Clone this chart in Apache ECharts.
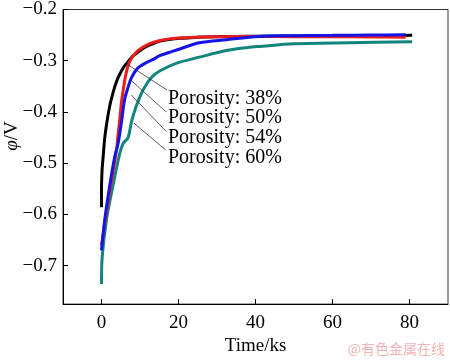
<!DOCTYPE html>
<html>
<head>
<meta charset="utf-8">
<script src="https://cdn.jsdelivr.net/npm/echarts@6/dist/echarts.min.js"></script>
<style>html,body{margin:0;padding:0;background:#fff}#c{width:450px;height:361px}</style>
</head>
<body>
<div id="c"></div>
<script>
// Porosity 38% (black)
const t38 = [0, 0, 0.16, 0.4, 0.85, 1.4, 2.15, 2.8, 3.44, 4.2, 5.18, 6.0, 6.9, 8.0, 9.5, 11.0, 12.9, 15, 18, 21, 25, 30, 35, 40, 50, 60, 70, 80.7];
const phi38 = [-0.586, -0.55, -0.512, -0.49, -0.45, -0.42, -0.388, -0.368, -0.351, -0.335, -0.320, -0.310, -0.302, -0.292, -0.283, -0.275, -0.268, -0.262, -0.258, -0.256, -0.254, -0.253, -0.2525, -0.2522, -0.2515, -0.251, -0.2508, -0.2505];
// Porosity 50% (red)
const t50 = [0, 0.5, 1.0, 2.0, 3.0, 3.9, 4.3, 4.8, 5.2, 6.0, 6.6, 7.3, 8.3, 9.5, 12.1, 15, 18, 22, 26, 30, 40, 50, 60, 70, 79];
const phi50 = [-0.66, -0.635, -0.61, -0.56, -0.515, -0.475, -0.445, -0.41, -0.38, -0.34, -0.318, -0.302, -0.29, -0.28, -0.268, -0.261, -0.257, -0.255, -0.2535, -0.253, -0.2528, -0.253, -0.2533, -0.2535, -0.254];
// Porosity 54% (blue)
const t54 = [0, 0.85, 2.15, 3.44, 4.3, 5.2, 6.0, 6.9, 7.8, 9.5, 12.1, 13.8, 15.1, 17.5, 20.3, 25.4, 32.4, 41, 50, 60, 70, 79];
const phi54 = [-0.67, -0.61, -0.543, -0.487, -0.462, -0.419, -0.376, -0.352, -0.333, -0.314, -0.302, -0.296, -0.290, -0.284, -0.277, -0.265, -0.259, -0.2525, -0.251, -0.2505, -0.25, -0.2495];
// Porosity 60% (teal)
const t60 = [0, 0.16, 1.3, 3.0, 4.74, 5.6, 6.9, 7.8, 9.06, 10.8, 12.9, 15.1, 19.4, 25.4, 32.4, 38, 41, 50, 64, 80.7];
const phi60 = [-0.736, -0.685, -0.61, -0.543, -0.481, -0.462, -0.45, -0.419, -0.388, -0.357, -0.333, -0.320, -0.305, -0.293, -0.280, -0.274, -0.272, -0.267, -0.265, -0.263];

const seriesNames = ['Porosity: 38%', 'Porosity: 50%', 'Porosity: 54%', 'Porosity: 60%'];
const xTicks = [0, 20, 40, 60, 80];
const yTicks = [-0.7, -0.6, -0.5, -0.4, -0.3, -0.2];
// leader lines: [from (t, phi)], [to (t, phi)]
const leaderFrom = [[6.9, -0.308], [7.33, -0.336], [7.77, -0.367], [8.44, -0.422]];
const leaderTo = [[17.0, -0.357], [16.8, -0.400], [16.8, -0.438], [16.65, -0.474]];

const zip = (a, b) => a.map((v, i) => [v, b[i]]);
const serif = '"Liberation Serif", "Times New Roman", serif';
const colors = ['#000000', '#ee1c1c', '#1414e6', '#14857d'];
const dataSets = [zip(t38, phi38), zip(t50, phi50), zip(t54, phi54), zip(t60, phi60)];
const zOrder = [3, 4, 5, 2];

const chart = echarts.init(document.getElementById('c'));
const series = dataSets.map((d, i) => ({
  name: seriesNames[i], type: 'line', data: d, showSymbol: false, smooth: 0.3,
  lineStyle: {color: colors[i], width: 3}, z: zOrder[i], silent: true
}));
series.push({
  type: 'line', data: [], silent: true,
  markLine: {
    symbol: 'none', silent: true, animation: false,
    label: {show: false},
    lineStyle: {color: '#333', width: 0.8, type: 'solid'},
    data: leaderFrom.map((f, i) => [{coord: f}, {coord: leaderTo[i]}])
  }
});

const labelYs = [98.5, 118, 138, 158];

chart.setOption({
  animation: false,
  backgroundColor: '#fff',
  grid: {left: 63, right: 2, top: 5, bottom: 46, show: true, borderColor: '#333', borderWidth: 1},
  xAxis: {
    type: 'value', min: -10, max: 90,
    axisLine: {onZero: false, lineStyle: {color: '#000', width: 1}},
    axisTick: {inside: true, length: 5, customValues: xTicks, lineStyle: {color: '#000'}},
    axisLabel: {customValues: xTicks, color: '#000', fontFamily: serif, fontSize: 19, margin: 9},
    splitLine: {show: false},
    name: 'Time/ks', nameLocation: 'middle', nameGap: 32,
    nameTextStyle: {color: '#000', fontFamily: serif, fontSize: 19}
  },
  yAxis: {
    type: 'value', min: -0.775, max: -0.2,
    axisLine: {show: true, onZero: false, lineStyle: {color: '#000', width: 1}},
    axisTick: {show: true, inside: true, length: 5, customValues: yTicks, lineStyle: {color: '#000'}},
    axisLabel: {customValues: yTicks, color: '#000', fontFamily: serif, fontSize: 19, margin: 6,
      formatter: v => (v < 0 ? '\u2212' : '') + Math.abs(v).toFixed(1)},
    splitLine: {show: false}
  },
  graphic: [
    {type: 'text', x: 12, y: 136, rotation: Math.PI / 2, silent: true,
      style: {text: '{i|φ}/V', align: 'center', verticalAlign: 'middle', fill: '#000',
        font: '19px ' + serif,
        rich: {i: {fontStyle: 'italic', fontSize: 19, fontFamily: serif, fill: '#000'}}}},
    ...seriesNames.map((n, i) => ({
      type: 'text', x: 168, y: labelYs[i], silent: true,
      style: {text: n, align: 'left', verticalAlign: 'middle', fill: '#000', font: '20px ' + serif}
    })),
    {type: 'text', right: 5, top: 342, silent: true,
      style: {text: '@有色金属在线', fill: '#f2b4b4', font: '14px "Noto Sans CJK SC"'}}
  ],
  series: series
});
</script>
</body>
</html>
